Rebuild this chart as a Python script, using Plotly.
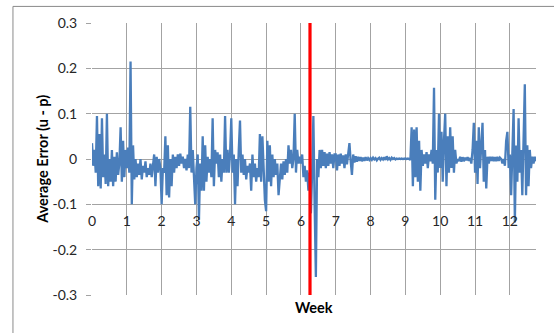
import numpy as np
import plotly.graph_objects as go

# Average prediction error (u - p), sampled every 6 hours (28 samples per week)
SAMPLES_PER_WEEK = 28

err_wk00 = [0.035, -0.015, 0.02, -0.03, 0.095, -0.06, 0.055, -0.065, 0.09, -0.04,
            0.01, -0.055, 0.1, -0.06, 0.0, -0.05, 0.02, -0.06, 0.005, -0.05,
            0.015, -0.035, -0.01, 0.07, -0.05, 0.04, -0.04, 0.02]
err_wk01 = [-0.02, 0.025, -0.03, 0.215, -0.1, 0.03, -0.045, 0.0, -0.04, -0.01,
            -0.035, 0.0, -0.045, -0.015, -0.03, -0.005, -0.04, -0.02, -0.035, -0.01,
            -0.04, -0.02, 0.01, -0.06, 0.005, -0.03, 0.0, -0.02]
err_wk02 = [-0.1, -0.02, -0.03, 0.05, -0.08, 0.03, -0.085, 0.0, -0.06, 0.01,
            -0.03, 0.005, -0.02, 0.01, -0.015, 0.012, -0.01, 0.005, -0.02, 0.0,
            -0.025, 0.01, -0.02, 0.115, -0.03, 0.02, -0.06, -0.1]
err_wk03 = [-0.02, 0.01, -0.135, -0.01, -0.07, 0.05, -0.07, 0.03, -0.05, 0.005,
            -0.03, 0.0, -0.04, 0.09, -0.06, 0.02, -0.01, 0.015, -0.04, 0.01,
            -0.05, 0.0, -0.03, 0.095, -0.03, 0.02, -0.03, 0.01]
err_wk04 = [0.09, -0.03, 0.01, -0.1, 0.0, -0.06, 0.02, 0.085, -0.03, 0.01,
            -0.035, 0.0, -0.045, -0.015, -0.03, -0.01, -0.07, 0.01, -0.04, -0.01,
            -0.05, -0.02, -0.04, 0.055, -0.05, 0.05, -0.02, -0.09]
err_wk05 = [-0.115, 0.04, -0.05, 0.03, -0.06, 0.01, -0.04, 0.0, -0.035, -0.01,
            -0.08, -0.03, -0.01, -0.045, -0.005, -0.035, 0.0, -0.03, 0.03, -0.01,
            0.02, -0.02, 0.0, 0.1, -0.03, 0.02, -0.01, 0.005]
err_wk06 = [-0.01, 0.01, -0.04, -0.015, -0.05, -0.025, -0.07, -0.03, -0.12, -0.03,
            0.095, -0.1, -0.26, 0.0, -0.04, 0.02, -0.02, 0.02, -0.015, 0.015,
            -0.02, 0.012, -0.015, 0.015, -0.01, 0.01, -0.02, 0.01]
err_wk07 = [0.01, -0.025, 0.01, -0.015, 0.012, -0.01, 0.008, -0.02, 0.01, -0.012,
            0.006, 0.035, -0.005, -0.035, 0.01, -0.008, 0.006, -0.006, 0.005, -0.004,
            0.004, -0.005, 0.003, -0.004, 0.004, -0.003, 0.002, -0.002]
err_wk08 = [0.002, -0.002, 0.003, -0.001, 0.002, -0.003, 0.001, 0.003, -0.002, 0.002,
            -0.001, 0.004, -0.002, 0.006, -0.001, 0.002, -0.002, 0.003, 0.0, 0.002,
            -0.001, 0.001, 0.0, 0.001, 0.0, 0.001, 0.0, 0.001]
err_wk09 = [0.001, 0.0, 0.001, 0.0, -0.002, 0.07, -0.06, 0.065, -0.04, 0.07,
            -0.05, 0.04, -0.07, 0.02, -0.015, 0.01, -0.01, 0.015, -0.02, 0.01,
            -0.005, 0.02, -0.01, 0.157, -0.09, 0.02, -0.03, 0.1]
err_wk10 = [-0.02, 0.06, -0.05, 0.04, 0.1, -0.06, 0.05, -0.03, 0.07, -0.02,
            0.05, -0.03, 0.02, -0.01, 0.0, -0.005, 0.005, -0.006, 0.004, -0.005,
            0.003, -0.003, 0.004, -0.004, 0.002, -0.01, 0.02, 0.08]
err_wk11 = [-0.03, 0.04, -0.055, 0.07, -0.02, 0.03, 0.08, -0.05, 0.02, -0.065,
            0.005, -0.01, 0.005, -0.004, 0.005, -0.005, 0.004, -0.005, 0.005, -0.004,
            0.003, 0.0, -0.01, 0.0, -0.015, 0.04, 0.06, -0.02]
err_wk12 = [0.01, -0.08, 0.02, 0.11, -0.14, 0.03, -0.05, 0.09, -0.03, 0.02,
            -0.08, 0.03, 0.165, -0.08, 0.03, -0.06, 0.02, -0.02, 0.005, -0.01,
            0.005, -0.005]

avg_error = (err_wk00 + err_wk01 + err_wk02 + err_wk03 + err_wk04 + err_wk05 + err_wk06
             + err_wk07 + err_wk08 + err_wk09 + err_wk10 + err_wk11 + err_wk12)
weeks = np.arange(len(avg_error)) / SAMPLES_PER_WEEK

week_ticks = list(range(13))
error_ticks = [0.3, 0.2, 0.1, 0.0, -0.1, -0.2, -0.3]
error_tick_text = ["0.3", "0.2", "0.1", "0", "-0.1", "-0.2", "-0.3"]
cutover_week = 6.26

GRID = "#a3a3a3"
FONT = "Lato, 'Open Sans', sans-serif"

fig = go.Figure()
fig.add_trace(go.Scatter(
    x=weeks, y=avg_error, mode="lines",
    line=dict(color="#4a7ebb", width=2.3),
    showlegend=False,
))

# vertical marker at the cut-over week
fig.add_shape(type="line", xref="x", yref="y",
              x0=cutover_week, x1=cutover_week, y0=-0.3, y1=0.3,
              line=dict(color="#ff0000", width=3.2), layer="above")

# chart frame
fig.add_shape(type="rect", xref="paper", yref="paper",
              x0=-0.178, x1=2.0, y0=-2.0, y1=1.061,
              line=dict(color="#8a8a8a", width=1), layer="below")

fig.update_layout(
    width=554, height=333,
    margin=dict(l=92, r=18, t=23, b=38),
    paper_bgcolor="white", plot_bgcolor="white",
    font=dict(family=FONT, size=14, color="#262626"),
    xaxis=dict(
        range=[0, 12.75], tickvals=week_ticks, showgrid=True,
        gridcolor=GRID, gridwidth=1, zeroline=False, showline=False,
        ticks="", anchor="free", position=1 / 3, ticklabelstandoff=7,
        tickfont=dict(size=14, color="#262626"),
    ),
    yaxis=dict(
        range=[-0.3, 0.3], tickvals=error_ticks, ticktext=error_tick_text,
        showgrid=True, gridcolor=GRID, gridwidth=1, zeroline=False,
        showline=False, ticks="outside", ticklen=5, tickcolor=GRID,
        ticklabelstandoff=6, tickfont=dict(size=14, color="#262626"),
    ),
    annotations=[
        dict(text="<b>Week</b>", xref="paper", yref="paper", x=0.5, y=-0.047,
             xanchor="center", yanchor="middle", showarrow=False,
             font=dict(family=FONT, size=14.5, color="#000000")),
        dict(text="<b>Average Error (u - p)</b>", xref="paper", yref="paper",
             x=-0.113, y=0.5, xanchor="center", yanchor="middle",
             textangle=-90, showarrow=False,
             font=dict(family=FONT, size=14.5, color="#000000")),
    ],
)

fig.write_html("out.html")
